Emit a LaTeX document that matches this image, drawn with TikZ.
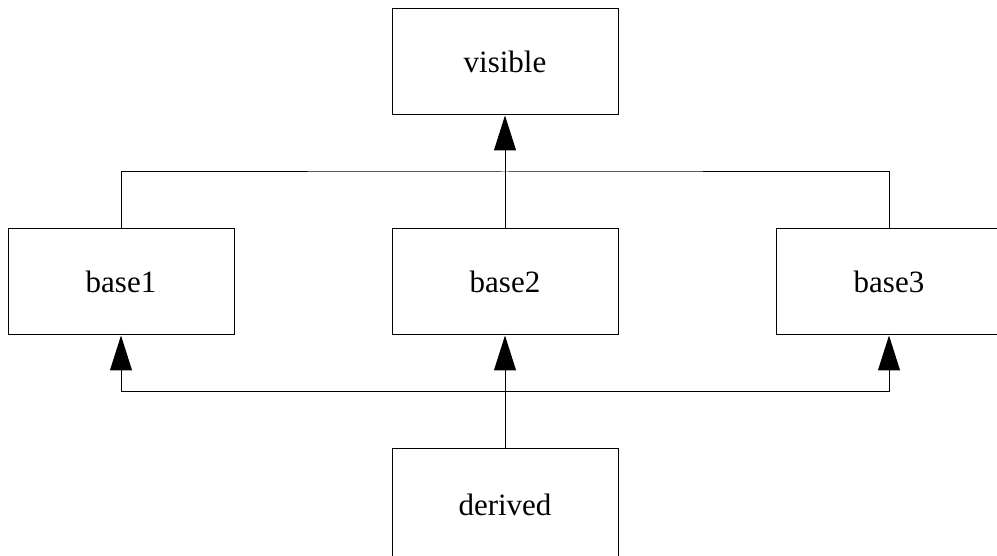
\documentclass[tikz,border=0pt]{standalone}
\usepackage{fontspec}
\setmainfont{Liberation Serif}
\usetikzlibrary{arrows.meta,calc}

\def\boxw{226pt}
\def\boxh{106pt}

\begin{document}
\begin{tikzpicture}[x=1pt,y=1pt,
    class/.style={draw, line width=1pt, minimum width=\boxw, minimum height=\boxh,
        inner sep=0pt, font=\fontsize{31}{36}\selectfont},
    inherit/.style={-{Triangle[length=35pt,width=22pt]}, line width=1pt}]
        \useasboundingbox (0,0) rectangle (997,555);
        \clip (0,0) rectangle (997,555);
        % top class
        \node[class] (visible) at (505,493) {visible};
        % middle row
        \node[class] (base1) at (121,273) {base1};
        \node[class] (base2) at (505,273) {base2};
        \node[class] (base3) at (889,273) {base3};
        % bottom class, cut by the lower edge
        \node[class, minimum height=112pt] (derived) at (505,50) {derived};
        % upper joint
        \coordinate (upper) at ($(base2.north)!0.5!(visible.south)$);
        \draw[inherit] (base2.north) -- (visible.south);
        \draw[line width=1pt] (base1.north) |- (upper) -| (base3.north);
        % lower joint
        \coordinate (lower) at ($(derived.north)!0.5!(base2.south)$);
        \draw[inherit] (derived.north) -- (base2.south);
        \draw[inherit] (lower) -| (base1.south);
        \draw[inherit] (lower) -| (base3.south);
    \end{tikzpicture}
\end{document}
